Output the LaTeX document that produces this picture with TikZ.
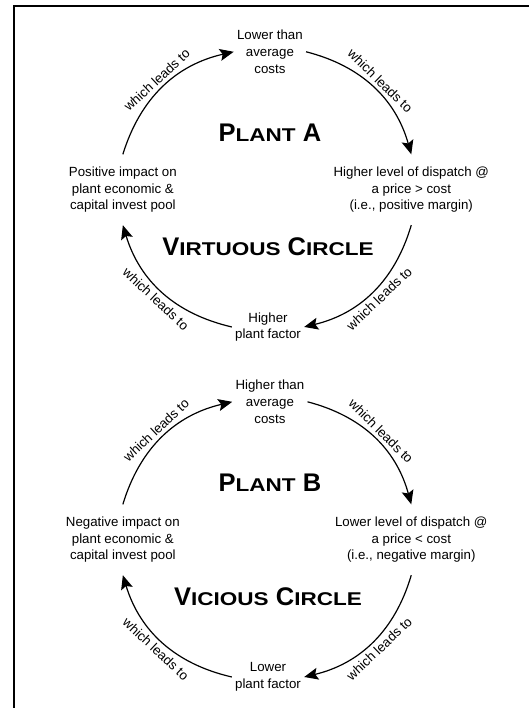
\documentclass[tikz,border=0pt]{standalone}
\usepackage{fontspec}
\setmainfont{Liberation Sans}
\newfontfamily\widefont[FakeStretch=1.22]{Liberation Sans}
\usetikzlibrary{arrows.meta}

% small caps made from a stretched, smaller Liberation Sans
\newcommand{\smcap}[1]{{\widefont\fontsize{13.9}{16}\selectfont #1}}

\begin{document}
\begin{tikzpicture}[
  font=\fontsize{10}{12.5}\selectfont, >={Stealth[length=10.5pt,width=9pt,inset=2pt]},
  stage/.style={align=center,inner sep=1.5pt,outer xsep=1pt,outer ysep=8pt},
  title/.style={font=\fontsize{19.2}{22}\selectfont\bfseries,inner sep=1pt},
  flow/.style={->,line width=0.9pt,bend left=30},
  lead/.style={sloped,font=\fontsize{10}{12}\selectfont,inner sep=3pt},
]
\useasboundingbox (0,0) rectangle (14.0,18.73);
% frame
\draw[line width=1.9pt] (0.37,0) -- (0.37,18.575) -- (14.0,18.575);
% plant A
\node[stage] (costA) at (7.14,17.36) {Lower than\\average\\costs};
\node[stage] (dispA) at (10.88,13.71) {Higher level of dispatch @\\a price > cost\\(i.e., positive margin)};
\node[stage] (factA) at (7.09,10.08) {Higher\\plant factor};
\node[stage] (poolA) at (3.25,13.71) {Positive impact on\\plant economic \&\\capital invest pool};
\node[title] (nameA) at (7.14,15.21) {P\smcap{LANT} A};
\node[title] (kindA) at (7.09,12.20) {V\smcap{IRTUOUS} C\smcap{IRCLE}};
\draw[flow] (costA.east) to node[lead,above]{which leads to} (dispA.north);
\draw[flow] (dispA.south) to node[lead,below]{which leads to} (factA.east);
\draw[flow] (factA.west) to node[lead,below]{which leads to} (poolA.south);
\draw[flow] (poolA.north) to node[lead,above]{which leads to} (costA.west);
% plant B
\node[stage] (costB) at (7.14,8.10) {Higher than\\average\\costs};
\node[stage] (dispB) at (10.88,4.45) {Lower level of dispatch @\\a price < cost\\(i.e., negative margin)};
\node[stage] (factB) at (7.09,0.82) {Lower\\plant factor};
\node[stage] (poolB) at (3.25,4.45) {Negative impact on\\plant economic \&\\capital invest pool};
\node[title] (nameB) at (7.14,5.95) {P\smcap{LANT} B};
\node[title] (kindB) at (7.09,2.94) {V\smcap{ICIOUS} C\smcap{IRCLE}};
\draw[flow] (costB.east) to node[lead,above]{which leads to} (dispB.north);
\draw[flow] (dispB.south) to node[lead,below]{which leads to} (factB.east);
\draw[flow] (factB.west) to node[lead,below]{which leads to} (poolB.south);
\draw[flow] (poolB.north) to node[lead,above]{which leads to} (costB.west);
\end{tikzpicture}
\end{document}
